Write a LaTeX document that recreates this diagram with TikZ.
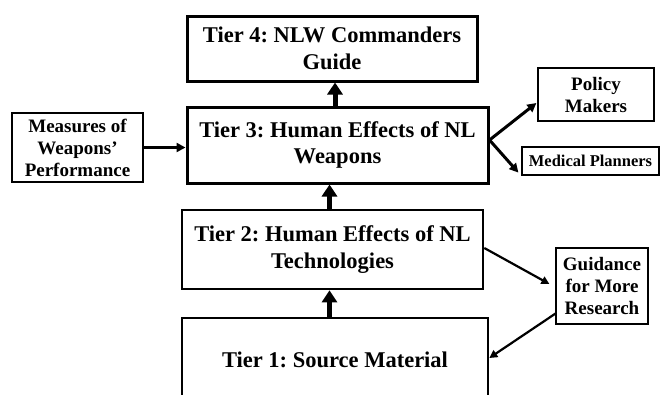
\documentclass[tikz,border=0pt]{standalone}
\usepackage{fontspec}
\setmainfont{Liberation Serif}
\usetikzlibrary{arrows.meta}
\frenchspacing
\begin{document}
\begin{tikzpicture}[x=1pt,y=-1pt,
  tier/.style={draw, fill=white, line width=3pt, align=center, inner sep=0pt,
    font=\fontsize{22.5}{26.5}\selectfont\bfseries},
  tierb/.style={tier, line width=2.6pt},
  side/.style={draw, fill=white, line width=1.2pt, align=center, inner sep=0pt,
    font=\fontsize{19}{22}\selectfont\bfseries},
  bigarrow/.style={line width=5pt, -{Triangle[length=12pt,width=15pt]}},
  arr/.style={line width=3pt, -{Triangle[length=9pt,width=9pt]}},
  thinarr/.style={line width=2.2pt, -{Triangle[length=8pt,width=8pt]}},
]
\useasboundingbox (0,0) rectangle (661,394);
\clip (0,0) rectangle (661,394);

\node[tier, minimum width=290pt, minimum height=65pt] (t4) at (332,48.5)
  {Tier 4: NLW Commanders\\Guide};
\node[tier, minimum width=301pt, minimum height=76pt] (t3) at (337.5,145)
  {Tier 3: Human Effects of NL\\Weapons};
\node[tierb, minimum width=301pt, minimum height=79pt] (t2) at (332.5,249.5)
  {Tier 2: Human Effects of NL\\Technologies};
\node[tierb, minimum width=306pt, minimum height=84pt] (t1) at (335,360)
  {Tier 1: Source Material};

\node[side, minimum width=131pt, minimum height=69pt] (meas) at (77.5,147.5)
  {Measures of\\Weapons'\\Performance};
\node[side, minimum width=116pt, minimum height=53pt] (pol) at (596,94.5)
  {Policy\\Makers};
\node[side, minimum width=137pt, minimum height=28pt,
  font=\fontsize{16.5}{19}\selectfont\bfseries] (med) at (590.5,161)
  {Medical Planners};
\node[side, minimum width=92pt, minimum height=76pt] (gd) at (602,286)
  {Guidance\\for More\\Research};

\coordinate (ax1) at (329.5,0);
\coordinate (ax2) at (335,0);
\draw[bigarrow] (t1.north -| ax1) -- (t2.south -| ax1);
\draw[bigarrow] (t2.north -| ax1) -- (t3.south -| ax1);
\draw[bigarrow] (t3.north -| ax2) -- (t4.south -| ax2);

\draw[arr] (meas.east) -- (meas.east -| t3.west);
\draw[arr] ([yshift=5pt]t3.east) -- ([yshift=-8.5pt,xshift=-1pt]pol.west);
\draw[arr] ([yshift=5pt]t3.east) -- ([xshift=-3pt,yshift=3pt]med.south west);

\draw[thinarr] ([yshift=1.5pt]t2.east) -- ([xshift=-6pt,yshift=2pt]gd.west);
\draw[thinarr] ([yshift=11pt]gd.south west) -- ([yshift=2pt]t1.east);
\end{tikzpicture}
\end{document}
